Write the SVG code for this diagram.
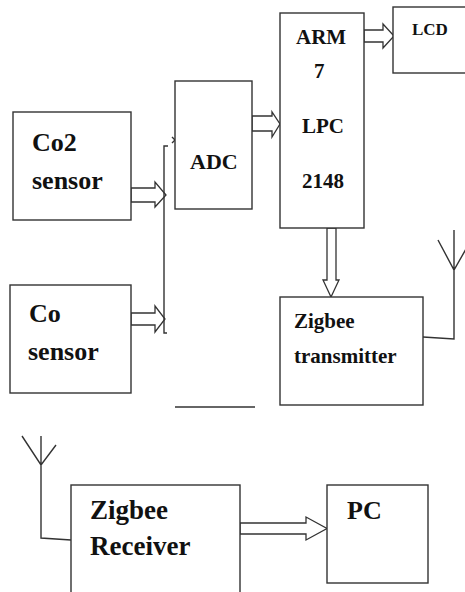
<svg xmlns="http://www.w3.org/2000/svg" width="465" height="592" viewBox="0 0 465 592">
<style>
.box{fill:#fff;stroke:#333;stroke-width:1.4}
.arr{fill:#fff;stroke:#333;stroke-width:1.3;stroke-linejoin:miter}
.ln{fill:none;stroke:#333;stroke-width:1.4}
</style>
<rect width="465" height="592" fill="#fff"/>
<g id="connectors">
<polygon class="arr" points="131,188 155,188 155,182 166,195 155,207 155,202 131,202"/>
<polygon class="arr" points="131,313 155,313 155,306 165,319 155,332 155,325 131,325"/>
<path class="ln" d="M168,146 H164 V333 H167"/>
<path class="ln" d="M172,137 L175,140 L172,143"/>
<polygon class="arr" points="252,116 272,116 272,112 280,124 272,137 272,131 252,131"/>
<polygon class="arr" points="364,30 383,30 383,24 394,36 383,48 383,42 364,42"/>
<polygon class="arr" points="327,228 327,280 323,280 331,297 339,280 336,280 336,228"/>
<polygon class="arr" points="240,523 306,523 306,517 327,528.5 306,540 306,534 240,534"/>
<path class="ln" d="M175,407 H255"/>
<path class="ln" d="M423,337 L454,339 V230 M438,240 L454,270 L466,249"/>
<path class="ln" d="M71,540 L41,538 V436 M22,436 L41,465 L56,445"/>
</g>
<g id="co2-sensor">
<rect class="box" x="13" y="112" width="118" height="108"/>
<text x="32" y="151" font-size="26" font-family="Liberation Serif" font-weight="bold" fill="#111">Co2</text>
<text x="32" y="189" font-size="26" font-family="Liberation Serif" font-weight="bold" fill="#111">sensor</text>
</g>
<g id="co-sensor">
<rect class="box" x="10" y="285" width="121" height="108"/>
<text x="29" y="322" font-size="26" font-family="Liberation Serif" font-weight="bold" fill="#111">Co</text>
<text x="28" y="360" font-size="26" font-family="Liberation Serif" font-weight="bold" fill="#111">sensor</text>
</g>
<g id="adc">
<rect class="box" x="175" y="81" width="77" height="128"/>
<text x="190" y="169" font-size="22" font-family="Liberation Serif" font-weight="bold" fill="#111">ADC</text>
</g>
<g id="arm">
<rect class="box" x="280" y="13" width="84" height="215"/>
<text x="296" y="44" font-size="21" font-family="Liberation Serif" font-weight="bold" fill="#111">ARM</text>
<text x="314" y="78" font-size="21" font-family="Liberation Serif" font-weight="bold" fill="#111">7</text>
<text x="302" y="133" font-size="21" font-family="Liberation Serif" font-weight="bold" fill="#111">LPC</text>
<text x="302" y="188" font-size="21" font-family="Liberation Serif" font-weight="bold" fill="#111">2148</text>
</g>
<g id="lcd">
<rect class="box" x="393" y="7" width="80" height="66"/>
<text x="412" y="35" font-size="17" font-family="Liberation Serif" font-weight="bold" fill="#111">LCD</text>
</g>
<g id="zigbee-transmitter">
<rect class="box" x="280" y="297" width="143" height="108"/>
<text x="294" y="328" font-size="21" font-family="Liberation Serif" font-weight="bold" fill="#111">Zigbee</text>
<text x="294" y="363" font-size="21" font-family="Liberation Serif" font-weight="bold" fill="#111">transmitter</text>
</g>
<g id="zigbee-receiver">
<rect class="box" x="71" y="485" width="169" height="120"/>
<text x="90" y="519" font-size="27" font-family="Liberation Serif" font-weight="bold" fill="#111">Zigbee</text>
<text x="90" y="555" font-size="27" font-family="Liberation Serif" font-weight="bold" fill="#111">Receiver</text>
</g>
<g id="pc">
<rect class="box" x="327" y="485" width="101" height="98"/>
<text x="347" y="519" font-size="26" font-family="Liberation Serif" font-weight="bold" fill="#111">PC</text>
</g>
</svg>
